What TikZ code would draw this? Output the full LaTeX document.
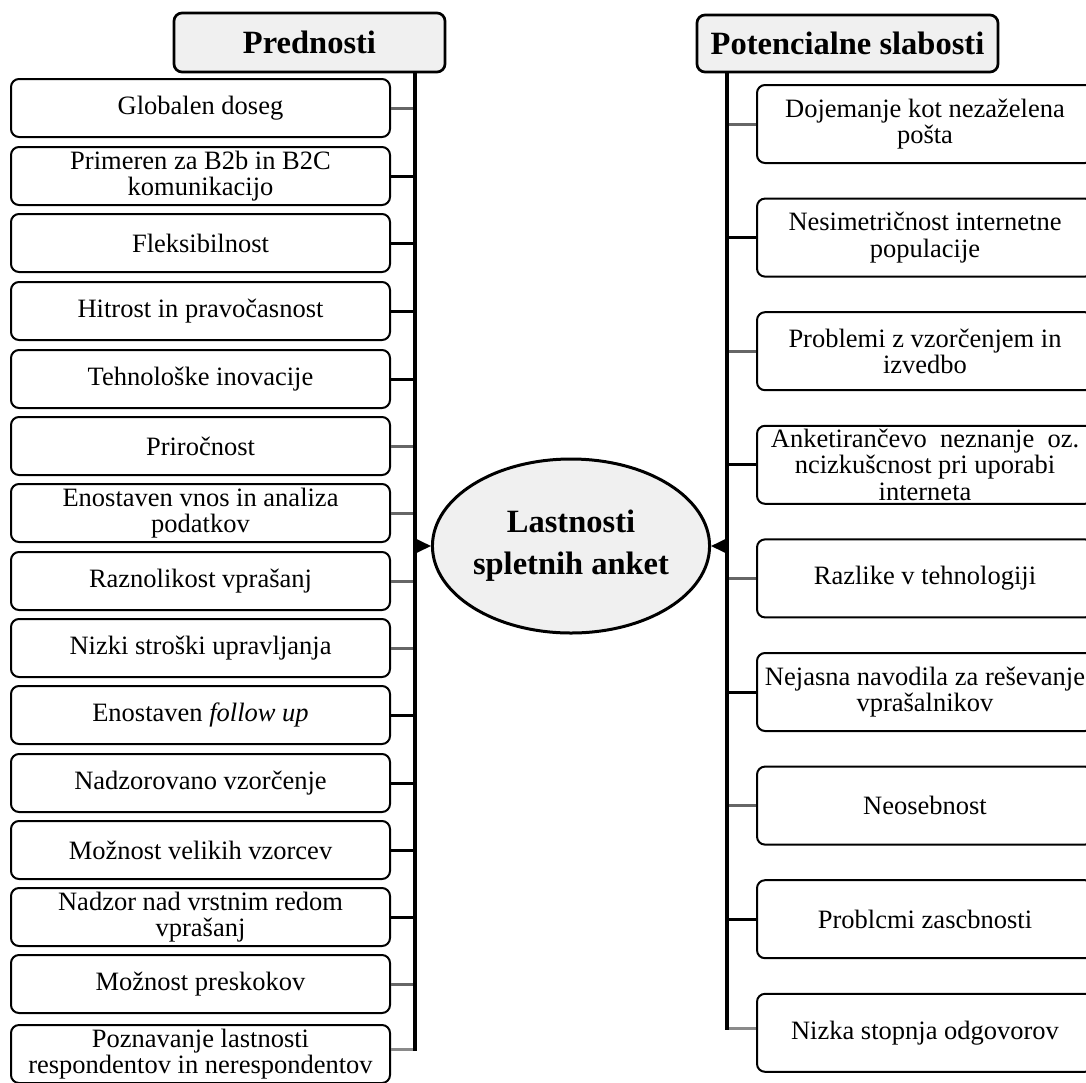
\documentclass[tikz,border=0pt]{standalone}
\usepackage{fontspec}
\setmainfont{Liberation Serif}
\usetikzlibrary{arrows.meta,shapes.geometric,calc}
\definecolor{headgray}{HTML}{F0F0F0}
\definecolor{linkgray}{HTML}{666666}
\definecolor{linklight}{HTML}{8A8A8A}
\begin{document}
\begin{tikzpicture}[x=1pt,y=-1pt,
  item/.style={draw, line width=2pt, rounded corners=8pt, fill=white,
    align=center, inner sep=0pt, font=\fontsize{26.5}{26.5}\selectfont},
  leftitem/.style={item, minimum width=379pt, minimum height=58pt},
  rightitem/.style={item, minimum width=336pt, minimum height=78pt},
  head/.style={draw, line width=2.7pt, rounded corners=8pt, fill=headgray,
    inner sep=0pt, font=\fontsize{32.5}{34}\selectfont\bfseries},
  spine/.style={line width=3.3pt},
  link/.style={line width=3pt},
  glink/.style={line width=3pt, draw=linkgray},
  llink/.style={line width=3pt, draw=linklight},
  feed/.style={line width=2pt, -{Triangle[length=17pt,width=16pt]}}
]
\useasboundingbox (0,0) rectangle (1086,1082);

% headers
\node[head, minimum width=271pt, minimum height=59pt] (HL) at (309.5,42.5) {Prednosti};
\node[head, minimum width=301pt, minimum height=57pt] (HR) at (847.5,43.5) {Potencialne slabosti};

% centre
\node[ellipse, draw, line width=3pt, fill=headgray, minimum width=246pt, minimum height=174pt,
  inner sep=0pt, align=center, font=\fontsize{32.5}{42}\selectfont\bfseries]
  (E) at (571,546) {Lastnosti\\spletnih anket};

% spine positions
\coordinate (lx) at (415,0);
\coordinate (rx) at (727,0);

% advantages
\node[leftitem] (L1)  at (200.5,108)  {Globalen doseg};
\node[leftitem] (L2)  at (200.5,176)  {Primeren za B2b in B2C\\komunikacijo};
\node[leftitem] (L3)  at (200.5,243)  {Fleksibilnost};
\node[leftitem] (L4)  at (200.5,311)  {Hitrost in pravočasnost};
\node[leftitem] (L5)  at (200.5,379)  {Tehnološke inovacije};
\node[leftitem] (L6)  at (200.5,446)  {Priročnost};
\node[leftitem] (L7)  at (200.5,513)  {Enostaven vnos in analiza\\podatkov};
\node[leftitem] (L8)  at (200.5,581)  {Raznolikost vprašanj};
\node[leftitem] (L9)  at (200.5,648)  {Nizki stroški upravljanja};
\node[leftitem] (L10) at (200.5,715)  {Enostaven \textit{follow up}};
\node[leftitem] (L11) at (200.5,783)  {Nadzorovano vzorčenje};
\node[leftitem] (L12) at (200.5,850)  {Možnost velikih vzorcev};
\node[leftitem] (L13) at (200.5,917)  {Nadzor nad vrstnim redom\\vprašanj};
\node[leftitem] (L14) at (200.5,984)  {Možnost preskokov};
\node[leftitem] (L15) at (200.5,1054) {Poznavanje lastnosti\\respondentov in nerespondentov};

% weaknesses
\node[rightitem] (R1) at (925,124)   {Dojemanje kot nezaželena\\pošta};
\node[rightitem] (R2) at (925,237.6) {Nesimetričnost internetne\\populacije};
\node[rightitem] (R3) at (925,351.2) {Problemi z vzorčenjem in\\izvedbo};
\node[rightitem] (R4) at (925,464.8) {Anketirančevo\ \ neznanje\ \ oz.\\ncizkušcnost pri uporabi\\interneta};
\node[rightitem] (R5) at (925,578.4) {Razlike v tehnologiji};
\node[rightitem] (R6) at (925,692)   {Nejasna navodila za reševanje\\vprašalnikov};
\node[rightitem] (R7) at (925,805.6) {Neosebnost};
\node[rightitem] (R8) at (925,919.2) {Problcmi zascbnosti};
\node[rightitem] (R9) at (925,1032.8){Nizka stopnja odgovorov};

% left spine and branches
\draw[glink] (L1.east) -- (L1.east -| lx);
\foreach \n in {2,3,4,5,10,11,12,13}
  \draw[link] (L\n.east) -- (L\n.east -| lx);
\foreach \n in {6,7,8,9,14}
  \draw[glink] (L\n.east) -- (L\n.east -| lx);
\coordinate (lbot) at ($(L15.east)+(0,-5)$);
\draw[llink] (lbot) -- (lbot -| lx);
\draw[spine] (HL.south -| lx) -- ([yshift=-1.5pt]lbot -| lx);

% right spine and branches
\foreach \n in {2,4,6,8}
  \draw[link] (R\n.west) -- (R\n.west -| rx);
\foreach \n in {1,3,5,7}
  \draw[glink] (R\n.west) -- (R\n.west -| rx);
\coordinate (rbot) at ($(R9.west)+(0,-4)$);
\draw[llink] (rbot) -- (rbot -| rx);
\draw[spine] (HR.south -| rx) -- ([yshift=-1.5pt]rbot -| rx);

% feeds into the centre
\draw[feed] (E.west -| lx) -- (E.west);
\draw[feed] (E.east -| rx) -- (E.east);
\end{tikzpicture}
\end{document}
